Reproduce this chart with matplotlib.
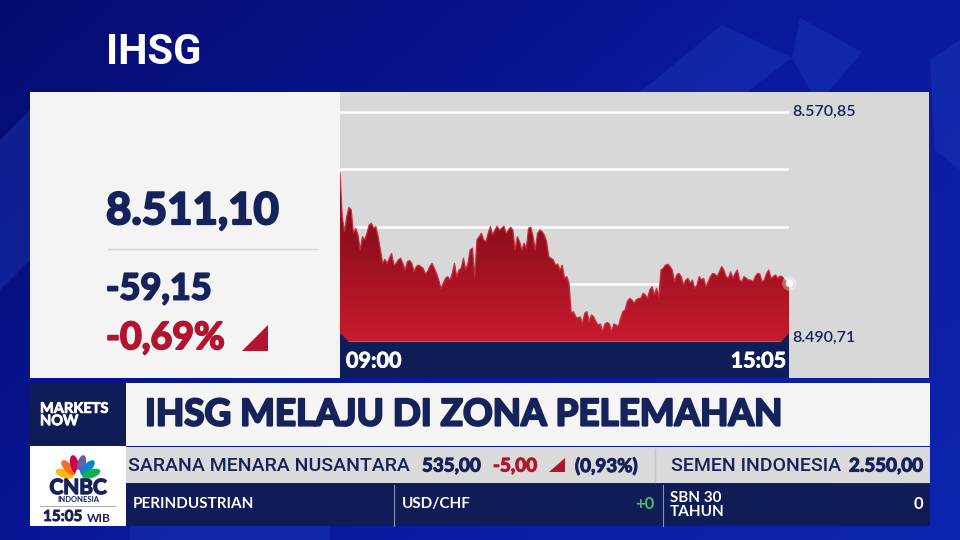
import numpy as np
import matplotlib
matplotlib.use('Agg')
import matplotlib.pyplot as plt
import matplotlib.patheffects as pe
from matplotlib.patches import Rectangle, Polygon, Ellipse
from matplotlib.colors import LinearSegmentedColormap

plt.rcParams['font.family'] = ['Lato', 'DejaVu Sans']

# ---- data IHSG intraday (doc tu hinh) ----
ihsg_part1 = [8549.5, 8534.3, 8529.1, 8534.3, 8537.5, 8536.6, 8528.5, 8530.2, 8527.9, 8522.7,
              8527.3, 8526.2, 8528.5, 8531.4, 8532.0, 8530.2, 8530.8, 8527.3, 8522.7, 8518.0,
              8519.4, 8518.0, 8519.8, 8521.5, 8517.4, 8518.0, 8519.2, 8519.8, 8518.0, 8515.7,
              8518.6, 8519.0, 8518.0, 8515.1, 8516.9, 8517.4, 8516.9, 8516.3, 8514.5, 8515.1,
              8516.9, 8518.0, 8516.3, 8514.5, 8512.2, 8509.3, 8511.1, 8512.8, 8513.4, 8512.2,
              8514.5, 8518.0]
ihsg_part2 = [8513.4, 8515.7, 8516.3, 8519.8, 8515.7, 8518.0, 8522.7, 8523.3, 8513.4, 8526.2,
              8527.3, 8528.5, 8526.2, 8525.6, 8528.5, 8530.8, 8527.9, 8529.6, 8531.0, 8529.6,
              8530.2, 8531.0, 8528.5, 8529.6, 8530.6, 8529.6, 8522.7, 8527.3, 8525.6, 8522.7,
              8525.0, 8523.3, 8530.2, 8530.6, 8527.3, 8522.7, 8528.5, 8529.6, 8529.1, 8527.9,
              8525.6, 8520.3, 8519.8, 8519.2, 8517.4, 8517.8, 8515.7, 8517.4, 8512.8, 8513.4,
              8511.1]
ihsg_part3 = [8500.6, 8501.2, 8499.4, 8498.9, 8499.4, 8497.1, 8500.6, 8501.2, 8497.7, 8500.0,
              8499.4, 8497.7, 8496.5, 8496.9, 8494.2, 8496.9, 8497.4, 8496.9, 8494.2, 8496.9,
              8496.5, 8496.0, 8498.9, 8501.2, 8501.8, 8504.7, 8505.8, 8505.3, 8504.1, 8505.3,
              8505.8, 8505.8, 8507.6, 8507.0, 8505.8, 8508.7, 8509.9, 8507.0, 8509.3, 8506.4,
              8515.7, 8516.3, 8517.4, 8517.7, 8516.9, 8515.7, 8511.6, 8514.0, 8514.5, 8513.4]
ihsg_part4 = [8510.5, 8512.2, 8512.8, 8511.1, 8512.2, 8509.3, 8510.5, 8513.4, 8512.2, 8512.8,
              8509.9, 8511.6, 8513.4, 8514.5, 8514.3, 8513.4, 8515.1, 8516.9, 8515.7, 8513.4,
              8512.8, 8515.1, 8512.8, 8514.5, 8515.7, 8512.2, 8511.6, 8513.4, 8512.8, 8512.2,
              8512.2, 8511.6, 8513.4, 8514.5, 8514.3, 8511.6, 8512.2, 8514.5, 8515.7, 8512.8,
              8513.4, 8514.0, 8512.8, 8513.6, 8513.4, 8512.2, 8511.6, 8511.1]

skala_atas = 8570.85
skala_bawah = 8490.71
label_skala = ['8.570,85', '8.490,71']
label_waktu = ['09:00', '15:05']

harga_terakhir = '8.511,10'
perubahan = '-59,15'
persen = '-0,69%'
judul = 'IHSG MELAJU DI ZONA PELEMAHAN'

saham_nama = ['SARANA MENARA NUSANTARA', 'SEMEN INDONESIA']
saham_harga = ['535,00', '2.550,00']
saham_ubah = '-5,00'
saham_persen = '(0,93%)'
bawah_nama = ['PERINDUSTRIAN', 'USD/CHF', 'SBN 30\nTAHUN']
bawah_nilai = ['', '+0', '0']

W, H = 960, 540
NAVY = '#0f1c55'
TXT = '#16225a'
RED = '#b3132e'


def tebal(warna, lw=1.2):
    # chu dam hon (Lato khong co ban Black)
    return [pe.withStroke(linewidth=lw, foreground=warna)]


fig = plt.figure(figsize=(9.6, 5.4), dpi=100)
bg = fig.add_axes([0, 0, 1, 1])
bg.set_xlim(0, W)
bg.set_ylim(H, 0)
bg.axis('off')

# nen xanh
yy, xx = np.mgrid[0:1:120j, 0:1:200j]
nen = 0.6 * xx + 0.4 * yy
cm_nen = LinearSegmentedColormap.from_list('nen', ['#050c70', '#0a189c', '#0d25ae'])
bg.imshow(nen, extent=[0, W, H, 0], cmap=cm_nen, aspect='auto', zorder=0)
for pts in [[(640, 92), (722, 25), (792, 58), (712, 118)],
            [(792, 58), (800, 18), (862, 52), (818, 104)],
            [(930, 60), (960, 40), (960, 170), (935, 150)],
            [(130, 526), (330, 526), (330, 540), (130, 540)],
            [(0, 140), (30, 110), (30, 260), (0, 290)]]:
    bg.add_patch(Polygon(pts, closed=True, color='#2447c4', alpha=0.3, lw=0, zorder=1))

bg.text(106, 52, 'IHSG', color='white', fontsize=30, fontweight='bold', va='center',
        family=['Roboto', 'DejaVu Sans'], zorder=3)

# panel
bg.add_patch(Rectangle((30, 92), 310, 286, color='#f4f4f4', lw=0, zorder=2))
bg.add_patch(Rectangle((340, 92), 589, 286, color='#d8d8d8', lw=0, zorder=2))

bg.text(106, 211, harga_terakhir, color=TXT, fontsize=31.5, fontweight='bold', va='center',
        zorder=3, path_effects=tebal(TXT, 1.6))
bg.plot([108, 318], [249, 249], color='#d4d4d4', lw=1, zorder=3)
bg.text(106, 289, perubahan, color=TXT, fontsize=26, fontweight='bold', va='center',
        zorder=3, path_effects=tebal(TXT, 1.4))
bg.text(106, 338, persen, color=RED, fontsize=27, fontweight='bold', va='center',
        zorder=3, path_effects=tebal(RED, 1.4))
bg.add_patch(Polygon([(242, 351), (268, 351), (268, 325)], closed=True, color=RED, lw=0, zorder=3))

# grafik
ax = fig.add_axes([340 / W, 1 - 341.7 / H, (789 - 340) / W, (341.7 - 92) / H])
ax.set_facecolor('none')
ihsg = np.array(ihsg_part1 + ihsg_part2 + ihsg_part3 + ihsg_part4)
n = len(ihsg)
x = np.arange(n)
y_lim_top = skala_bawah + (skala_atas - skala_bawah) * (341.7 - 92) / (341.7 - 111.7)
ax.set_xlim(0, n - 1)
ax.set_ylim(skala_bawah, y_lim_top)
for v in np.linspace(skala_bawah, skala_atas, 5)[1:]:
    ax.axhline(v, color='white', lw=1.8, zorder=1)

poly = ax.fill_between(x, ihsg, skala_bawah, color='none', lw=0)
cm_red = LinearSegmentedColormap.from_list('merah', ['#740a1b', '#9c111f', '#c81b2f'])
grad = np.linspace(0, 1, 256).reshape(-1, 1)
im = ax.imshow(grad, extent=[0, n - 1, skala_bawah, ihsg.max()], aspect='auto',
               cmap=cm_red, zorder=2)
im.set_clip_path(poly.get_paths()[0], transform=ax.transData)
ax.plot(x, ihsg, color='#cc2c3f', lw=0.9, zorder=3)
ax.scatter([n - 1], [ihsg[-1]], s=110, color='white', alpha=0.35, lw=0, zorder=4, clip_on=False)
ax.scatter([n - 1], [ihsg[-1]], s=28, color='white', lw=0, zorder=5, clip_on=False)
ax.axis('off')

# lop tren: dai navy va nhan
fg = fig.add_axes([0, 0, 1, 1])
fg.set_xlim(0, W)
fg.set_ylim(H, 0)
fg.axis('off')
fg.set_facecolor('none')
fg.add_patch(Polygon([(340, 333), (349, 342), (781, 342), (789, 333), (789, 378), (340, 378)],
                     closed=True, color=NAVY, lw=0))
fg.text(346, 361, label_waktu[0], color='white', fontsize=15.5, fontweight='bold',
        va='center', ha='left', path_effects=tebal('white', 0.6))
fg.text(786, 361, label_waktu[1], color='white', fontsize=15.5, fontweight='bold',
        va='center', ha='right', path_effects=tebal('white', 0.6))
fg.text(792, 112, label_skala[0], color=TXT, fontsize=11.5, fontweight='semibold', va='center')
fg.text(792, 338, label_skala[1], color=TXT, fontsize=11.5, fontweight='semibold', va='center')

# lower third
fg.add_patch(Rectangle((30, 383), 96, 63, color=NAVY, lw=0))
fg.text(40, 415, 'MARKETS\nNOW', color='white', fontsize=10.5, fontweight='bold',
        va='center', linespacing=0.85, path_effects=tebal('white', 0.6))
fg.add_patch(Rectangle((126, 383), 804, 63, color='#f5f5f5', lw=0))
fg.text(145, 415, judul, color=TXT, fontsize=26.5, fontweight='bold', va='center',
        path_effects=tebal(TXT, 1.6))

fg.add_patch(Rectangle((30, 446), 96, 80, color='white', lw=0))
bulu = ['#fcb711', '#f37021', '#cc004c', '#6460aa', '#0089d0', '#0db14b']
for warna, sudut in zip(bulu, [-72, -43, -14, 14, 43, 72]):
    r = np.radians(sudut)
    fg.add_patch(Ellipse((78 + 14 * np.sin(r), 478 - 14 * np.cos(r)), 8.5, 19,
                         angle=sudut, color=warna, lw=0))
fg.add_patch(Ellipse((78, 474), 5, 9, color='white', lw=0))
fg.text(78, 488, 'CNBC', color=TXT, fontsize=15, fontweight='bold', ha='center', va='center',
        path_effects=tebal(TXT, 1.0))
fg.text(78, 500, 'INDONESIA', color=TXT, fontsize=5.5, fontweight='bold', ha='center', va='center')
fg.plot([40, 115], [506, 506], color='#b0b0b0', lw=0.8)
fg.text(43, 517, '15:05', color=TXT, fontsize=11, fontweight='bold', va='center',
        path_effects=tebal(TXT, 0.6))
fg.text(87, 518, 'WIB', color=TXT, fontsize=8.5, fontweight='bold', va='center')

fg.add_patch(Rectangle((126, 447), 804, 36, color='#dadada', lw=0))
fg.text(128, 466, saham_nama[0], color=TXT, fontsize=14, fontweight='medium', va='center',
        family=['Roboto', 'DejaVu Sans'])
fg.text(422, 466, saham_harga[0], color=TXT, fontsize=13.5, fontweight='bold', va='center',
        path_effects=tebal(TXT, 0.8))
fg.text(493, 466, saham_ubah, color=RED, fontsize=13.5, fontweight='bold', va='center',
        path_effects=tebal(RED, 0.8))
fg.add_patch(Polygon([(549, 472), (565, 472), (565, 458)], closed=True, color=RED, lw=0))
fg.text(575, 466, saham_persen, color=TXT, fontsize=13.5, fontweight='bold', va='center',
        path_effects=tebal(TXT, 0.8))
fg.plot([655, 655], [449, 482], color='#c4c4c4', lw=1)
fg.text(671, 466, saham_nama[1], color=TXT, fontsize=14, fontweight='medium', va='center',
        family=['Roboto', 'DejaVu Sans'])
t = fg.text(849, 466, saham_harga[1], color=TXT, fontsize=13.5, fontweight='bold', va='center',
            path_effects=tebal(TXT, 0.8))
t.set_clip_path(Rectangle((126, 447), 804, 36, transform=fg.transData))

fg.add_patch(Rectangle((126, 484), 804, 42, color=NAVY, lw=0))
fg.text(133, 504, bawah_nama[0], color='white', fontsize=11, fontweight='bold', va='center')
fg.plot([394, 394], [485, 526], color='#8a93b8', lw=0.8)
fg.text(402, 504, bawah_nama[1], color='white', fontsize=11, fontweight='bold', va='center')
fg.text(655, 504, bawah_nilai[1], color='#3fbf6a', fontsize=12, fontweight='bold',
        va='center', ha='right')
fg.plot([663, 663], [485, 526], color='#8a93b8', lw=0.8)
fg.text(670, 505, bawah_nama[2], color='white', fontsize=11, fontweight='bold', va='center',
        linespacing=1.0)
fg.text(923, 504, bawah_nilai[2], color='white', fontsize=12, fontweight='bold',
        va='center', ha='right')

fig.savefig('out.png', dpi=100)
